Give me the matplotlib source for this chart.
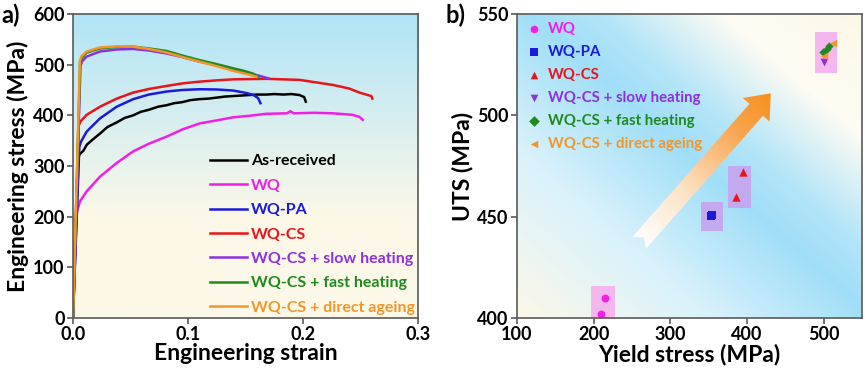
import numpy as np
import matplotlib
matplotlib.use("Agg")
import matplotlib.pyplot as plt
from matplotlib.colors import LinearSegmentedColormap, to_rgb
from matplotlib.patches import Polygon, Rectangle

plt.rcParams['font.family'] = ['Lato', 'DejaVu Sans']
plt.rcParams['font.weight'] = 'bold'

# ---------------- data: panel a (strain, stress) ----------------
names = ["As-received", "WQ", "WQ-PA", "WQ-CS", "WQ-CS + slow heating",
         "WQ-CS + fast heating", "WQ-CS + direct ageing"]
colors = ["#000000", "#f01ee6", "#1a1ad8", "#e8141c", "#8c30e0", "#1e8a1e", "#f0962a"]

ar_strain = [0, 0.0048, 0.0060, 0.0090, 0.0120, 0.0170, 0.0235, 0.030, 0.038, 0.045, 0.0524, 0.059, 0.066, 0.074, 0.0814, 0.088, 0.095, 0.102, 0.110, 0.118, 0.125, 0.132, 0.139, 0.146, 0.153, 0.160, 0.168, 0.175, 0.183, 0.190, 0.197, 0.2010, 0.2024]
ar_stress = [0, 318, 324, 330, 342, 352, 364, 377, 386, 395, 400, 407, 411, 417, 420, 424, 426, 430, 432, 433, 435, 437, 438, 439, 440, 441, 441, 442, 441, 442, 440, 436, 427]

wq_strain = [0, 0.0020, 0.0035, 0.0060, 0.0119, 0.0235, 0.038, 0.0524, 0.066, 0.0814, 0.095, 0.110, 0.125, 0.139, 0.153, 0.168, 0.186, 0.189, 0.192, 0.21, 0.226, 0.243, 0.249, 0.252]
wq_stress = [0, 190, 210, 230, 250, 279, 306, 329, 344, 358, 372, 384, 390, 396, 399, 403, 404, 408, 404, 405, 404, 401, 397, 391]

pa_strain = [0, 0.0055, 0.0070, 0.0119, 0.0235, 0.038, 0.0524, 0.066, 0.0814, 0.095, 0.110, 0.125, 0.139, 0.151, 0.157, 0.161, 0.163]
pa_stress = [0, 338, 348, 368, 394, 417, 432, 441, 447, 450, 451.5, 451, 449, 444, 440, 434, 424]

cs_strain = [0, 0.0050, 0.0065, 0.0119, 0.0235, 0.038, 0.0524, 0.066, 0.0814, 0.095, 0.110, 0.125, 0.139, 0.168, 0.197, 0.226, 0.240, 0.249, 0.2594, 0.2603]
cs_stress = [0, 380, 388, 401, 417, 433, 445, 452, 458, 463, 466.5, 469, 471, 472, 470, 460, 453, 445, 438, 433]

sh_strain = [0, 0.0065, 0.0080, 0.0119, 0.0235, 0.038, 0.0524, 0.066, 0.0814, 0.095, 0.110, 0.125, 0.139, 0.150, 0.162, 0.170]
sh_stress = [0, 498, 507, 516, 526, 530, 531, 528, 522, 515, 506, 499, 491, 485, 478, 473]

fh_strain = [0, 0.0062, 0.0078, 0.0119, 0.0235, 0.038, 0.0524, 0.066, 0.0814, 0.095, 0.110, 0.125, 0.139, 0.150, 0.157, 0.161]
fh_stress = [0, 505, 514, 524, 532, 535, 535.5, 532, 527, 518, 509, 501, 493, 487, 482, 475]

da_strain = [0, 0.0060, 0.0075, 0.0119, 0.0235, 0.038, 0.0524, 0.066, 0.0814, 0.095, 0.110, 0.125, 0.139, 0.150, 0.157, 0.1596]
da_stress = [0, 508, 517, 526, 534, 536, 535.5, 531, 524, 515, 506, 497, 488, 482, 478, 476]

curves = [(ar_strain, ar_stress), (wq_strain, wq_stress), (pa_strain, pa_stress),
          (cs_strain, cs_stress), (sh_strain, sh_stress), (fh_strain, fh_stress),
          (da_strain, da_stress)]

# ---------------- data: panel b (yield, UTS) ----------------
b_names = names[1:]
b_colors = colors[1:]
b_markers = ["o", "s", "^", "v", "D", "<"]
b_sizes = [32, 32, 36, 32, 18, 28]
ys_wq, uts_wq = [209, 215], [402, 410]
ys_pa, uts_pa = [352.5, 354.5], [450.2, 450.8]
ys_cs, uts_cs = [386, 394.5], [459.6, 471.8]
ys_sh, uts_sh = [501], [526.2]
ys_fh, uts_fh = [499, 504, 507.5], [531.2, 532.5, 534.2]
ys_da, uts_da = [500.5, 512.5], [529.5, 535.5]
b_points = [(ys_wq, uts_wq), (ys_pa, uts_pa), (ys_cs, uts_cs),
            (ys_sh, uts_sh), (ys_fh, uts_fh), (ys_da, uts_da)]

# highlight boxes: (x0, x1, y0, y1, color)
boxes = [(197, 228, 398, 415.6, "#f4b4ee"),
         (340, 369, 443, 457.2, "#c4a6f0"),
         (375.3, 405, 454.2, 474.8, "#c4a6f0"),
         (488.7, 517.8, 520.9, 541.1, "#f4b4ee")]

# ---------------- figure ----------------
W, H = 865, 375
fig = plt.figure(figsize=(W / 100, H / 100), dpi=100)
axa = fig.add_axes([73 / W, 1 - 318 / H, 345 / W, 304 / H])
axb = fig.add_axes([517 / W, 1 - 318 / H, 345 / W, 304 / H])

cream = np.array(to_rgb("#fcf8e8"))
blue_a = np.array(to_rgb("#b0e4f7"))
blue_b = np.array(to_rgb("#a0def7"))
white = np.array([1.0, 1.0, 1.0])

# panel a background: vertical gradient
n = 256
t = np.linspace(0, 1, n)[:, None]
cmap_a = LinearSegmentedColormap.from_list("ga", [cream, cream, (cream + blue_a) / 2, blue_a])
grad_a = np.repeat(t, 2, axis=1)
axa.imshow(grad_a, extent=[0, 1, 0, 1], transform=axa.transAxes, origin="lower",
           aspect="auto", cmap=cmap_a, zorder=0, interpolation="bilinear")

# panel b background: diagonal reflected gradient
u = np.linspace(0, 1, n)[None, :]
v = np.linspace(0, 1, n)[:, None]
tt = (u + v) / 2
cmap_b = LinearSegmentedColormap.from_list(
    "gb", [(0.0, cream), (0.28, white * 0.6 + blue_b * 0.4), (0.52, blue_b),
           (0.62, blue_b * 0.8 + white * 0.2), (0.8, white * 0.5 + cream * 0.5), (1.0, cream)])
axb.imshow(tt, extent=[0, 1, 0, 1], transform=axb.transAxes, origin="lower",
           aspect="auto", cmap=cmap_b, zorder=0, interpolation="bilinear")

spine_c = "#5a5a5a"
TICK_FS = 13
LAB_FS = 16.5
for ax in (axa, axb):
    for s in ax.spines.values():
        s.set_color(spine_c)
        s.set_linewidth(1.2)
        s.set_zorder(5)
    ax.tick_params(direction="out", length=4, width=1.2, color=spine_c,
                   labelsize=TICK_FS, pad=2)

# ---- panel a ----
for (x, y), c, nm in zip(curves, colors, names):
    axa.plot(x, y, color=c, lw=1.8, label=nm, zorder=3, solid_joinstyle="round")
axa.set_xlim(0, 0.3)
axa.set_ylim(0, 600)
axa.set_xticks([0.0, 0.1, 0.2, 0.3])
axa.set_xticklabels(["0.0", "0.1", "0.2", "0.3"])
axa.set_yticks([0, 100, 200, 300, 400, 500, 600])
axa.set_xlabel("Engineering strain", fontsize=LAB_FS, fontweight="bold", labelpad=0)
axa.set_ylabel("Engineering stress (MPa)", fontsize=LAB_FS, fontweight="bold", labelpad=3)
for lab in axa.get_xticklabels() + axa.get_yticklabels():
    lab.set_fontweight("bold")
leg = axa.legend(loc="lower right", frameon=False, handlelength=2.3,
                 handletextpad=0.25, labelspacing=0.64, borderaxespad=0.0, borderpad=0.2,
                 prop={"weight": "bold", "size": 11.5})
for txt, c in zip(leg.get_texts(), colors):
    txt.set_color(c)
fig.text(1 / W, 1 - 15 / H, "a)", fontsize=17, fontweight="bold", va="center", ha="left")

# ---- panel b ----
for (x0, x1, y0, y1, c) in boxes:
    axb.add_patch(Rectangle((x0, y0), x1 - x0, y1 - y0, facecolor=c, edgecolor="none",
                            zorder=1, alpha=0.95))
for (x, y), c, m, nm, sz in zip(b_points, b_colors, b_markers, b_names, b_sizes):
    axb.scatter(x, y, color=c, marker=m, s=sz, zorder=4, label=nm, linewidths=0)

axb.set_xlim(100, 550)
axb.set_ylim(400, 550)
axb.set_xticks([100, 200, 300, 400, 500])
axb.set_yticks([400, 450, 500, 550])
axb.set_xlabel("Yield stress (MPa)", fontsize=LAB_FS, fontweight="bold", labelpad=0)
axb.set_ylabel("UTS (MPa)", fontsize=LAB_FS, fontweight="bold", labelpad=3)
for lab in axb.get_xticklabels() + axb.get_yticklabels():
    lab.set_fontweight("bold")
legb = axb.legend(loc="upper left", bbox_to_anchor=(0.0275, 0.975), frameon=False,
                  handlelength=1.0, handletextpad=0.43, labelspacing=0.6,
                  borderaxespad=0.0, borderpad=0.0, scatterpoints=1,
                  prop={"weight": "bold", "size": 10.8})
for txt, c in zip(legb.get_texts(), b_colors):
    txt.set_color(c)
for h in legb.legend_handles:
    h.set_sizes([30])
fig.text(446 / W, 1 - 15 / H, "b)", fontsize=17, fontweight="bold", va="center", ha="left")

# ---- gradient arrow (decoration) in panel b, built in pixel space ----
ax_w, ax_h = 345.0, 304.0
tail = np.array([0.3545 * ax_w, 0.2477 * ax_h])
tip = np.array([0.7354 * ax_w, 0.7391 * ax_h])
d = tip - tail
L = np.linalg.norm(d)
e = d / L
p = np.array([-e[1], e[0]])
shaft_hw, head_hw, head_len, notch = 9.0, 18.0, 22.0, 7.0
hb = tip - e * head_len
pts = [tail + p * shaft_hw, hb + p * shaft_hw, hb + p * head_hw, tip,
       hb - p * head_hw, hb - p * shaft_hw, tail - p * shaft_hw, tail + e * notch]
pts = np.array(pts) / np.array([ax_w, ax_h])
poly = Polygon(pts, closed=True, transform=axb.transAxes, facecolor="none",
               edgecolor="none")
axb.add_patch(poly)
gx = np.linspace(0, 1, 300)[None, :]
gy = np.linspace(0, 1, 300)[:, None]
proj = ((gx * ax_w - tail[0]) * e[0] + (gy * ax_h - tail[1]) * e[1]) / L
proj = np.clip(proj, 0, 1)
cmap_arrow = LinearSegmentedColormap.from_list(
    "ar", [(0, "#ffffff"), (0.35, "#fde2c4"), (0.75, "#f9a550"), (1, "#f7901e")])
im = axb.imshow(proj, extent=[0, 1, 0, 1], transform=axb.transAxes, origin="lower",
                aspect="auto", cmap=cmap_arrow, vmin=0, vmax=1, zorder=2,
                interpolation="bilinear")
im.set_clip_path(poly)

axb.set_xlim(100, 550)
axb.set_ylim(400, 550)

fig.savefig("out.png", dpi=100)
